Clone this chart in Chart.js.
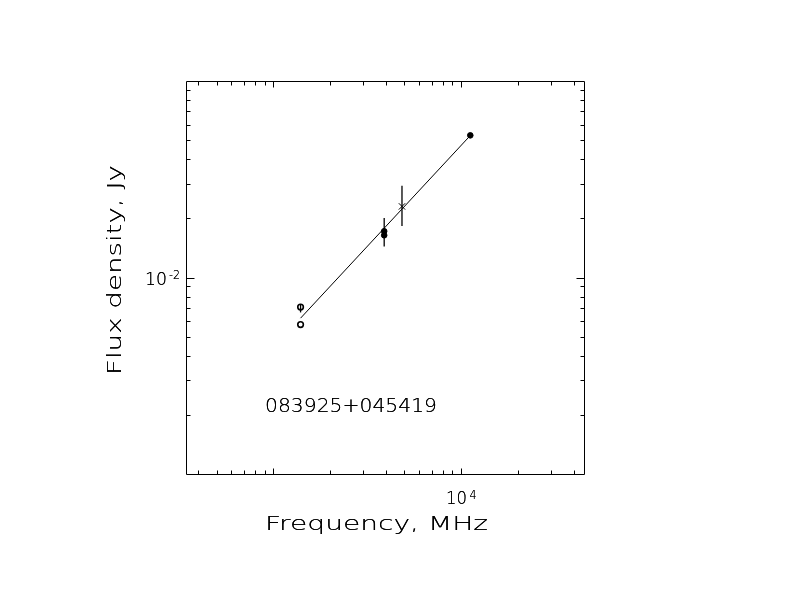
<!DOCTYPE html>
<html><head><meta charset="utf-8">
<script src="https://cdn.jsdelivr.net/npm/chart.js@4"></script>
<style>html,body{margin:0;padding:0;background:#fff;}canvas{display:block;}</style>
</head><body>
<canvas id="c" width="792" height="612"></canvas>
<script>
// ---- data (frequency in MHz, flux density in Jy) ----
const openFreq = [1400, 1400];
const openFlux = [0.00576, 0.00707];
const filledFreq = [3900, 3900, 11200];
const filledFlux = [0.0172, 0.0164, 0.0529];
const crossFreq = [4850];
const crossFlux = [0.0230];
const errFreq = [1400, 3900, 4850];
const errLow = [0.00664, 0.0144, 0.0183];
const errHigh = [0.00732, 0.0201, 0.0293];
const fitFreq = [1400, 11100];
const fitFlux = [0.00621, 0.0523];
const sourceName = '083925+045419';
const xTitle = 'Frequency, MHz';
const yTitle = 'Flux density, Jy';
const xMin = 344, xMax = 45100, yMin = 0.001, yMax = 0.1;
const xMinorTicks = [400,500,600,700,800,900,2000,3000,4000,5000,6000,7000,8000,9000,20000,30000,40000];
const xMajorTicks = [1000, 10000];
const yMinorTicks = [0.002,0.003,0.004,0.005,0.006,0.007,0.008,0.009,0.02,0.03,0.04,0.05,0.06,0.07,0.08,0.09];
const yMajorTicks = [0.01];
const xLabelValues = [10000], xLabelBase = ['10'], xLabelExp = ['4'];
const yLabelValues = [0.01], yLabelBase = ['10'], yLabelExp = ['-2'];

const FONT = '"DejaVu Sans", sans-serif';
const WEIGHT = '200';
const pts = (xs, ys) => xs.map((x, i) => ({x, y: ys[i]}));

const errDatasets = errFreq.map((f, i) => ({
  type: 'line', showLine: true, data: [{x: f, y: errLow[i]}, {x: f, y: errHigh[i]}],
  borderColor: '#000', borderWidth: 1.3, pointRadius: 0, fill: false
}));

function stretchText(ctx, txt, x, y, w, size, rot) {
  ctx.save();
  ctx.font = WEIGHT + ' ' + size + 'px ' + FONT;
  const m = ctx.measureText(txt).width;
  ctx.translate(x, y);
  if (rot) ctx.rotate(rot);
  ctx.scale(w / m, 1);
  ctx.textAlign = 'left';
  ctx.textBaseline = 'alphabetic';
  ctx.fillStyle = '#000';
  ctx.fillText(txt, 0, 0);
  ctx.fillText(txt, 0, 0);
  ctx.restore();
}

const framePlugin = {
  id: 'frame',
  afterDraw(chart) {
    const ctx = chart.ctx, a = chart.chartArea;
    const xs = chart.scales.x, ys = chart.scales.y;
    const L = Math.round(a.left) + 0.5, R = Math.round(a.right) + 0.5;
    const T = Math.round(a.top) + 0.5, B = Math.round(a.bottom) + 0.5;
    ctx.save();
    ctx.strokeStyle = '#000';
    ctx.lineWidth = 1;
    ctx.beginPath();
    ctx.rect(L, T, R - L, B - T);
    const xt = (v, len) => {
      const p = Math.round(xs.getPixelForValue(v)) + 0.5;
      ctx.moveTo(p, B); ctx.lineTo(p, B - len);
      ctx.moveTo(p, T); ctx.lineTo(p, T + len);
    };
    const yt = (v, len) => {
      const p = Math.round(ys.getPixelForValue(v)) + 0.5;
      ctx.moveTo(L, p); ctx.lineTo(L + len, p);
      ctx.moveTo(R, p); ctx.lineTo(R - len, p);
    };
    xMinorTicks.forEach(v => xt(v, 4));
    xMajorTicks.forEach(v => xt(v, 6));
    yMinorTicks.forEach(v => yt(v, 4));
    yMajorTicks.forEach(v => yt(v, 8));
    ctx.stroke();
    ctx.restore();

    xLabelValues.forEach((v, i) => {
      const p = xs.getPixelForValue(v);
      stretchText(ctx, xLabelBase[i], p - 15, a.bottom + 30, 21, 18);
      stretchText(ctx, xLabelExp[i], p + 8.5, a.bottom + 25, 7, 12);
    });
    yLabelValues.forEach((v, i) => {
      const p = ys.getPixelForValue(v);
      stretchText(ctx, yLabelBase[i], a.left - 41, p + 7.5, 22, 18);
      stretchText(ctx, yLabelExp[i], a.left - 17, p + 1.5, 11, 12);
    });

    stretchText(ctx, xTitle, a.left + 79, a.bottom + 56, 223, 20);
    stretchText(ctx, yTitle, a.left - 65, a.top + 294, 210, 20, -Math.PI / 2);
    stretchText(ctx, sourceName, a.left + 79, a.top + 331, 172, 20);
  }
};

new Chart(document.getElementById('c').getContext('2d'), {
  type: 'scatter',
  data: {
    datasets: [
      ...errDatasets,
      { type: 'line', showLine: true, data: pts(fitFreq, fitFlux), borderColor: '#000', borderWidth: 1, pointRadius: 0, fill: false },
      { data: pts(openFreq, openFlux), pointStyle: 'circle', pointRadius: 2.8, pointBorderWidth: 1.6, borderColor: '#000', backgroundColor: '#fff' },
      { data: pts(filledFreq, filledFlux), pointStyle: 'circle', pointRadius: 2.8, pointBorderWidth: 1, borderColor: '#000', backgroundColor: '#000' },
      { data: pts(crossFreq, crossFlux), pointStyle: 'crossRot', pointRadius: 4.5, pointBorderWidth: 1, borderColor: '#000', backgroundColor: '#000' }
    ]
  },
  options: {
    responsive: false,
    animation: false,
    devicePixelRatio: 1,
    layout: { padding: { left: 186, top: 81, right: 208, bottom: 138 } },
    plugins: { legend: { display: false }, tooltip: { enabled: false } },
    scales: {
      x: { type: 'logarithmic', min: xMin, max: xMax, display: false },
      y: { type: 'logarithmic', min: yMin, max: yMax, display: false }
    }
  },
  plugins: [framePlugin]
});
</script>
</body></html>
